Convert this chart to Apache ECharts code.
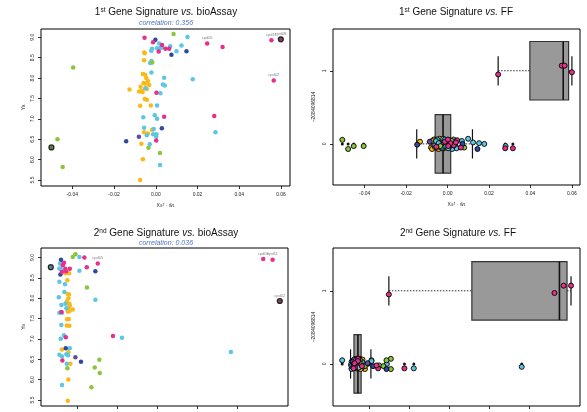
<!DOCTYPE html>
<html>
<head>
<meta charset="utf-8">
<script src="https://cdn.jsdelivr.net/npm/echarts@6/dist/echarts.min.js"></script>
<style>
  html, body { margin: 0; padding: 0; background: #fff; }
  #chart { width: 587px; height: 412px; }
</style>
</head>
<body>
<div id="chart"></div>
<script>
// ---- data: 1st signature score vs bioAssay (Y_B) ----
const p1Orange = [[-0.0053,8.61],[-0.0055,8.63],[-0.0056,8.44],[-0.0062,8.10],[-0.0051,8.08],[-0.0046,8.00],[-0.0038,7.93],[-0.0059,7.88],[-0.0051,7.86],[-0.0032,7.83],[-0.0073,7.79],[-0.0043,7.73],[-0.0126,7.72],[-0.0080,7.67],[-0.0066,7.69],[-0.0063,7.66],[-0.0053,7.49],[-0.0043,7.47],[-0.0075,7.32],[-0.0024,7.33],[-0.0056,6.67],[-0.0038,6.64],[-0.0018,6.73],[-0.0069,6.39],[-0.0062,6.01],[-0.0075,5.50]];
const p1Cyan = [[0.0152,9.01],[0.0123,8.80],[0.0016,8.85],[0.0021,8.74],[0.0029,8.75],[0.0069,8.78],[0.0099,8.66],[-0.0022,8.67],[-0.0018,8.72],[0.0006,8.73],[-0.0021,8.42],[-0.0027,8.37],[-0.0021,8.14],[0.0040,8.01],[0.0034,7.84],[0.0043,7.82],[0.0177,7.97],[-0.0050,7.75],[0.0022,7.63],[0.0006,7.33],[-0.0060,7.04],[-0.0005,7.09],[0.0006,7.00],[-0.0056,6.78],[-0.0010,6.75],[-0.0043,6.60],[-0.0013,6.62],[0.0003,6.62],[0.0002,6.56],[-0.0029,6.38],[0.0286,6.67],[0.0020,5.87]];
const p1Magenta = [[-0.0054,8.99],[-0.0013,8.88],[0.0030,8.81],[0.0046,8.72],[0.0064,8.72],[0.0014,8.65],[0.0246,8.85],[0.0320,8.76],[0.0554,8.93],[0.0565,7.94],[0.0003,7.64],[0.0040,7.05],[0.0280,7.07],[0.0002,6.47]];
const p1Green = [[0.0085,9.08],[-0.0396,8.26],[-0.0471,6.50],[-0.0446,5.82],[-0.0017,8.38],[-0.0035,6.29],[0.0020,6.16]];
const p1Blue = [[-0.0002,8.94],[0.0147,8.66],[0.0075,8.57],[0.0029,6.77],[-0.0142,6.45]];
const p1Purple = [[-0.0081,6.56]];
const p1Ringed = [[-0.0500,6.30,'#3d5a22'],[0.0599,8.95,'#5a1838']];
const p1Labels = [[0.0246,8.85,'cpd05'],[0.0554,8.93,'cpd11'],[0.0599,8.95,'cpd08'],[0.0565,7.94,'cpd02']];

// ---- data: 2nd signature score vs bioAssay ----
const p3Orange = [[-0.0042,8.61],[-0.0060,8.61],[-0.0050,8.44],[-0.0048,8.10],[-0.0042,8.09],[-0.0045,8.00],[-0.0053,7.92],[-0.0040,7.86],[-0.0038,7.82],[-0.0043,7.77],[-0.0023,7.72],[-0.0048,7.67],[-0.0040,7.68],[-0.0052,7.48],[-0.0043,7.49],[-0.0053,7.33],[-0.0040,7.32],[-0.0077,6.74],[-0.0045,6.67],[-0.0035,6.39],[-0.0045,6.00],[-0.0048,5.48]];
const p3Cyan = [[0.0010,9.01],[-0.0087,8.85],[-0.0075,8.87],[-0.0090,8.73],[-0.0082,8.71],[-0.0070,8.67],[0.0010,8.67],[-0.0090,8.40],[-0.0062,8.34],[-0.0065,8.15],[-0.0093,8.02],[0.0090,7.96],[-0.0080,7.83],[-0.0060,7.86],[-0.0055,7.75],[-0.0090,7.64],[-0.0077,7.64],[-0.0080,7.34],[-0.0067,7.09],[-0.0083,7.00],[0.0223,7.03],[-0.0038,6.77],[-0.0090,6.61],[-0.0077,6.57],[-0.0055,6.62],[-0.0047,6.60],[-0.0053,6.39],[-0.0077,5.87],[0.0768,6.68]];
const p3Magenta = [[0.0035,9.00],[0.0102,8.85],[0.0047,8.76],[-0.0067,8.87],[-0.0073,8.81],[-0.0060,8.72],[-0.0038,8.72],[-0.0078,8.64],[-0.0057,8.66],[0.0930,8.96],[0.0977,8.94],[-0.0080,7.66],[-0.0058,7.04],[0.0178,7.07],[-0.0075,6.47]];
const p3Green = [[-0.0010,9.08],[-0.0023,9.01],[0.0048,8.26],[0.0110,6.49],[0.0087,6.30],[0.0112,6.16],[0.0070,5.81],[-0.0050,6.28]];
const p3Blue = [[-0.0082,8.94],[-0.0085,8.58],[0.0090,8.66],[-0.0058,6.77],[0.0018,6.44]];
const p3Purple = [[-0.0010,6.55]];
const p3Ringed = [[-0.0133,8.76,'#2f5f6a'],[0.1013,7.93,'#5a1838']];
const p3Labels = [[0.0102,8.85,'cpd05'],[0.0930,8.96,'cpd08'],[0.0977,8.94,'cpd11'],[0.1013,7.93,'cpd02']];

// ---- FF panels: [score, FF group + jitter] ----
const f1Orange = [[-0.0053,0.05],[-0.0056,-0.03],[-0.0062,0.02],[-0.0051,-0.06],[-0.0046,0.04],[-0.0038,-0.02],[-0.0059,0.06],[-0.0051,0.00],[-0.0032,-0.05],[-0.0073,0.03],[-0.0043,-0.07],[-0.0133,0.03],[-0.0080,-0.05],[-0.0066,0.06],[-0.0063,-0.01],[-0.0053,0.02],[-0.0043,-0.04],[-0.0075,-0.07],[-0.0024,0.05],[-0.0056,-0.03],[-0.0038,0.07],[-0.0018,-0.06],[-0.0069,0.01],[-0.0062,-0.04],[-0.0075,0.04]];
const f1Cyan = [[0.0152,0.01],[0.0123,0.02],[0.0016,0.04],[0.0021,-0.03],[0.0029,0.06],[0.0069,0.04],[0.0099,0.07],[-0.0022,-0.05],[-0.0018,0.02],[0.0006,-0.02],[-0.0021,0.05],[-0.0027,-0.06],[-0.0021,0.07],[0.0040,-0.04],[0.0034,0.03],[0.0043,-0.06],[0.0177,0.00],[-0.0050,0.06],[0.0022,-0.07],[0.0006,0.05],[-0.0060,-0.02],[-0.0005,0.03],[0.0006,-0.05],[-0.0056,0.04],[-0.0010,-0.03],[-0.0043,0.01],[-0.0013,0.06],[0.0003,-0.06],[0.0002,0.02],[-0.0029,-0.04],[0.0280,-0.03],[0.0020,0.00]];
const f1Magenta = [[-0.0054,-0.04],[-0.0013,0.03],[0.0030,-0.02],[0.0046,0.05],[0.0064,-0.05],[0.0014,0.01],[0.0315,-0.06],[0.0003,-0.03],[0.0040,0.02],[0.0278,-0.06],[0.0002,0.06]];
const f1Green = [[-0.0508,0.055],[-0.0480,-0.07],[-0.0453,-0.03],[-0.0405,-0.03],[0.0080,-0.05],[-0.0010,0.02],[-0.0035,-0.03],[0.0020,0.04]];
const f1Blue = [[-0.0147,-0.01],[-0.0002,0.04],[0.0144,-0.07],[0.0072,0.00],[0.0029,-0.02]];
const f1Purple = [[-0.0086,0.03]];
const f1Top = [[0.0244,0.95],[0.0551,1.07],[0.0565,1.07],[0.0600,0.98]];
const f1Outliers = [[-0.0508,0],[-0.0480,0],[-0.0453,0],[-0.0405,0],[0.0278,0],[0.0315,0]];
// [group, low whisker, q1, median, q3, high whisker]
const f1Boxes = [[0,-0.0149,-0.0060,-0.0022,0.0015,0.0120],[1,0.0244,0.0397,0.0558,0.0584,0.0600]];

const f2Orange = [[-0.0042,0.05],[-0.0060,-0.03],[-0.0050,0.02],[-0.0048,-0.06],[-0.0042,0.04],[-0.0045,-0.02],[-0.0053,0.06],[-0.0040,0.00],[-0.0038,-0.05],[-0.0043,0.03],[-0.0023,-0.07],[-0.0048,0.07],[-0.0040,-0.04],[-0.0052,0.01],[-0.0043,-0.01],[-0.0053,0.04],[-0.0040,-0.06],[-0.0077,0.02],[-0.0045,-0.03],[-0.0035,0.06],[-0.0045,-0.07],[-0.0048,0.03]];
const f2Cyan = [[0.0010,0.05],[-0.0087,-0.03],[-0.0075,0.06],[-0.0090,-0.06],[-0.0082,0.02],[-0.0070,-0.02],[0.0010,0.04],[-0.0090,0.03],[-0.0062,-0.05],[-0.0065,0.07],[-0.0093,-0.01],[0.0087,0.00],[-0.0080,0.05],[-0.0060,-0.04],[-0.0055,0.02],[-0.0090,-0.07],[-0.0077,0.00],[-0.0080,0.04],[-0.0067,-0.06],[-0.0083,0.01],[0.0222,-0.06],[-0.0038,0.03],[-0.0090,-0.03],[-0.0077,0.06],[-0.0055,-0.01],[-0.0047,0.05],[-0.0053,-0.05],[-0.0077,0.02],[0.0763,-0.04],[-0.0137,0.05]];
const f2Magenta = [[0.0043,-0.06],[0.0035,-0.02],[-0.0067,0.06],[-0.0073,-0.05],[-0.0060,0.03],[-0.0038,-0.03],[-0.0078,0.00],[-0.0057,0.07],[-0.0080,-0.06],[-0.0058,0.04],[0.0175,-0.06],[-0.0075,0.01]];
const f2Green = [[-0.0010,0.00],[-0.0023,-0.03],[0.0048,-0.02],[0.0107,0.07],[0.0085,0.05],[0.0107,-0.07],[0.0070,-0.03],[-0.0050,0.02]];
const f2Blue = [[-0.0082,-0.04],[-0.0085,0.03],[0.0085,-0.07],[-0.0058,0.05],[0.0018,-0.03]];
const f2Purple = [[-0.0010,0.01]];
const f2Top = [[0.0097,0.95],[0.0927,0.97],[0.0973,1.07],[0.1010,1.07]];
const f2Outliers = [[-0.0137,0],[0.0175,0],[0.0222,0],[0.0763,0]];
const f2Boxes = [[0,-0.0095,-0.0078,-0.0058,-0.0042,0.0007],[1,0.0097,0.0513,0.0952,0.0990,0.1010]];

// tick values
const ticksX1 = [-0.04,-0.02,0,0.02,0.04,0.06];
const ticksX2 = [0,0.02,0.04,0.06,0.08];
const ticksYB = [5.5,6.0,6.5,7.0,7.5,8.0,8.5,9.0];
const ticksFF = [0,1];

const C = { orange: '#FBB917', cyan: '#5CC6E3', magenta: '#E5308C', green: '#8CC43F', blue: '#2E4A9E', purple: '#5C4DA0' };
const FONT = 'Liberation Sans';

const chart = echarts.init(document.getElementById('chart'));

const grids = [
  { left: 41, top: 29, width: 249, height: 157 },
  { left: 333, top: 29, width: 247, height: 156 },
  { left: 41, top: 248, width: 247, height: 158 },
  { left: 333, top: 248, width: 247, height: 158 }
].map(g => Object.assign(g, { show: true, borderColor: '#000', borderWidth: 1, backgroundColor: 'transparent' }));

const xName = {
  text: 'X{sb|G}{sp|T}{n| · }ŵ{sb|1}',
  rich: { sb: { fontSize: 3.5, verticalAlign: 'bottom' }, sp: { fontSize: 3.5, verticalAlign: 'top' }, n: { fontSize: 5 } }
};

function xAxis(idx, min, max, ticks, showLabels) {
  return {
    type: 'value', gridIndex: idx, min: min, max: max, position: 'bottom',
    splitLine: { show: false }, axisLine: { show: false, onZero: false },
    axisTick: { show: true, length: 3, customValues: ticks, lineStyle: { color: '#000', width: 0.8 } },
    axisLabel: { show: showLabels, customValues: ticks, fontSize: 5, color: '#222', margin: 6, fontFamily: FONT,
      formatter: v => v.toFixed(2) },
    name: showLabels ? xName.text : '', nameLocation: 'middle', nameGap: 17,
    nameTextStyle: { fontSize: 5, color: '#222', fontFamily: FONT, rich: xName.rich }
  };
}

function yAxis(idx, min, max, ticks, digits, name, gap) {
  return {
    type: 'value', gridIndex: idx, min: min, max: max, position: 'left',
    splitLine: { show: false }, axisLine: { show: false, onZero: false },
    axisTick: { show: true, length: 3, customValues: ticks, lineStyle: { color: '#000', width: 0.8 } },
    axisLabel: { customValues: ticks, fontSize: 5, color: '#222', rotate: 90, margin: 6, fontFamily: FONT,
      formatter: v => v.toFixed(digits) },
    name: name, nameLocation: 'middle', nameGap: gap,
    nameTextStyle: { fontSize: 5, color: '#222', fontFamily: FONT,
      rich: { sb: { fontSize: 3.5, verticalAlign: 'bottom' } } }
  };
}

function dots(idx, data, color, size, border) {
  return {
    type: 'scatter', xAxisIndex: idx, yAxisIndex: idx, data: data, symbolSize: size,
    itemStyle: { color: color, opacity: 1, borderColor: border ? '#000' : color, borderWidth: border ? 0.9 : 0 },
    silent: true, animation: false
  };
}

function ringed(idx, data) {
  return {
    type: 'scatter', xAxisIndex: idx, yAxisIndex: idx, symbolSize: 5, silent: true, animation: false,
    data: data.map(d => ({ value: [d[0], d[1]], itemStyle: { color: d[2], borderColor: '#000', borderWidth: 1.2 } }))
  };
}

function labels(idx, data) {
  return {
    type: 'scatter', xAxisIndex: idx, yAxisIndex: idx, symbolSize: 1, silent: true, animation: false,
    itemStyle: { color: 'rgba(0,0,0,0)' },
    data: data,
    label: { show: true, position: 'top', distance: 3, formatter: p => p.value[2], fontSize: 4, color: '#666', fontFamily: FONT }
  };
}

function boxes(idx, data) {
  return {
    type: 'custom', xAxisIndex: idx, yAxisIndex: idx, data: data, silent: true, animation: false,
    encode: { x: [1, 5], y: 0 },
    renderItem: function (params, api) {
      const g = api.value(0);
      const lo = api.value(1), q1 = api.value(2), med = api.value(3), q3 = api.value(4), hi = api.value(5);
      const a = api.coord([q1, g + 0.4]);
      const b = api.coord([q3, g - 0.4]);
      const m1 = api.coord([med, g + 0.4]);
      const m2 = api.coord([med, g - 0.4]);
      const wl = api.coord([lo, g]);
      const wr = api.coord([hi, g]);
      const sTop = api.coord([lo, g + 0.2])[1];
      const sBot = api.coord([lo, g - 0.2])[1];
      const dash = { stroke: '#333', lineWidth: 1, lineDash: [1.5, 1.5] };
      const solid = { stroke: '#111', lineWidth: 1.2 };
      return {
        type: 'group',
        children: [
          { type: 'line', shape: { x1: wl[0], y1: wl[1], x2: a[0], y2: wl[1] }, style: dash },
          { type: 'line', shape: { x1: b[0], y1: wr[1], x2: wr[0], y2: wr[1] }, style: dash },
          { type: 'line', shape: { x1: wl[0], y1: sTop, x2: wl[0], y2: sBot }, style: solid },
          { type: 'line', shape: { x1: wr[0], y1: sTop, x2: wr[0], y2: sBot }, style: solid },
          { type: 'rect', shape: { x: a[0], y: a[1], width: b[0] - a[0], height: b[1] - a[1] },
            style: { fill: '#999999', stroke: '#333', lineWidth: 1.2 } },
          { type: 'line', shape: { x1: m1[0], y1: m1[1], x2: m2[0], y2: m2[1] }, style: { stroke: '#111', lineWidth: 1.6 } }
        ]
      };
    }
  };
}

const titleRich = {
  n: { fontSize: 10, color: '#111', fontFamily: FONT, fontWeight: 'normal' },
  s: { fontSize: 6.5, color: '#111', fontFamily: FONT, fontWeight: 'normal', verticalAlign: 'top' },
  i: { fontSize: 10, color: '#111', fontFamily: FONT, fontWeight: 'normal', fontStyle: 'italic' }
};
function title(x, y, ord, sup, rest) {
  return { left: x, top: y, textAlign: 'center',
    text: '{n|' + ord + '}{s|' + sup + '}{n| Gene Signature }{i|vs.}{n| ' + rest + '}',
    textStyle: { fontWeight: 'normal', rich: titleRich }, padding: 0 };
}
function corr(x, y, txt) {
  return { left: x, top: y, textAlign: 'center', text: txt, padding: 0,
    textStyle: { fontSize: 7, fontStyle: 'italic', fontWeight: 'normal', color: '#4F74C4', fontFamily: FONT } };
}

const ffName = '~2084096814';

chart.setOption({
  animation: false,
  title: [
    title(166, 7, '1', 'st', 'bioAssay'),
    corr(166, 19.5, 'correlation: 0.356'),
    title(456, 7, '1', 'st', 'FF'),
    title(166, 228, '2', 'nd', 'bioAssay'),
    corr(166, 240, 'correlation: 0.036'),
    title(458, 228, '2', 'nd', 'FF')
  ],
  grid: grids,
  xAxis: [
    xAxis(0, -0.0550, 0.0643, ticksX1, true),
    xAxis(1, -0.0553, 0.0639, ticksX1, true),
    xAxis(2, -0.0182, 0.1054, ticksX2, false),
    xAxis(3, -0.0183, 0.1055, ticksX2, false)
  ],
  yAxis: [
    yAxis(0, 5.353, 9.204, ticksYB, 1, 'Y{sb|B}', 15),
    yAxis(1, -0.562, 1.571, ticksFF, 0, ffName, 17),
    yAxis(2, 5.352, 9.231, ticksYB, 1, 'Y{sb|B}', 15),
    yAxis(3, -0.575, 1.585, ticksFF, 0, ffName, 17)
  ],
  series: [
    // panel 1
    dots(0, p1Orange, C.orange, 4.5), dots(0, p1Cyan, C.cyan, 4.5), dots(0, p1Green, C.green, 4.5),
    dots(0, p1Blue, C.blue, 4.5), dots(0, p1Purple, C.purple, 4.5), dots(0, p1Magenta, C.magenta, 4.5),
    ringed(0, p1Ringed), labels(0, p1Labels),
    // panel 2
    boxes(1, f1Boxes),
    dots(1, f1Outliers, '#111', 3),
    dots(1, f1Orange, C.orange, 5, true), dots(1, f1Cyan, C.cyan, 5, true), dots(1, f1Green, C.green, 5, true),
    dots(1, f1Blue, C.blue, 5, true), dots(1, f1Purple, C.purple, 5, true), dots(1, f1Magenta, C.magenta, 5, true),
    dots(1, f1Top, C.magenta, 5, true),
    // panel 3
    dots(2, p3Orange, C.orange, 4.5), dots(2, p3Cyan, C.cyan, 4.5), dots(2, p3Green, C.green, 4.5),
    dots(2, p3Blue, C.blue, 4.5), dots(2, p3Purple, C.purple, 4.5), dots(2, p3Magenta, C.magenta, 4.5),
    ringed(2, p3Ringed), labels(2, p3Labels),
    // panel 4
    boxes(3, f2Boxes),
    dots(3, f2Outliers, '#111', 3),
    dots(3, f2Orange, C.orange, 5, true), dots(3, f2Cyan, C.cyan, 5, true), dots(3, f2Green, C.green, 5, true),
    dots(3, f2Blue, C.blue, 5, true), dots(3, f2Purple, C.purple, 5, true), dots(3, f2Magenta, C.magenta, 5, true),
    dots(3, f2Top, C.magenta, 5, true)
  ]
});
</script>
</body>
</html>
